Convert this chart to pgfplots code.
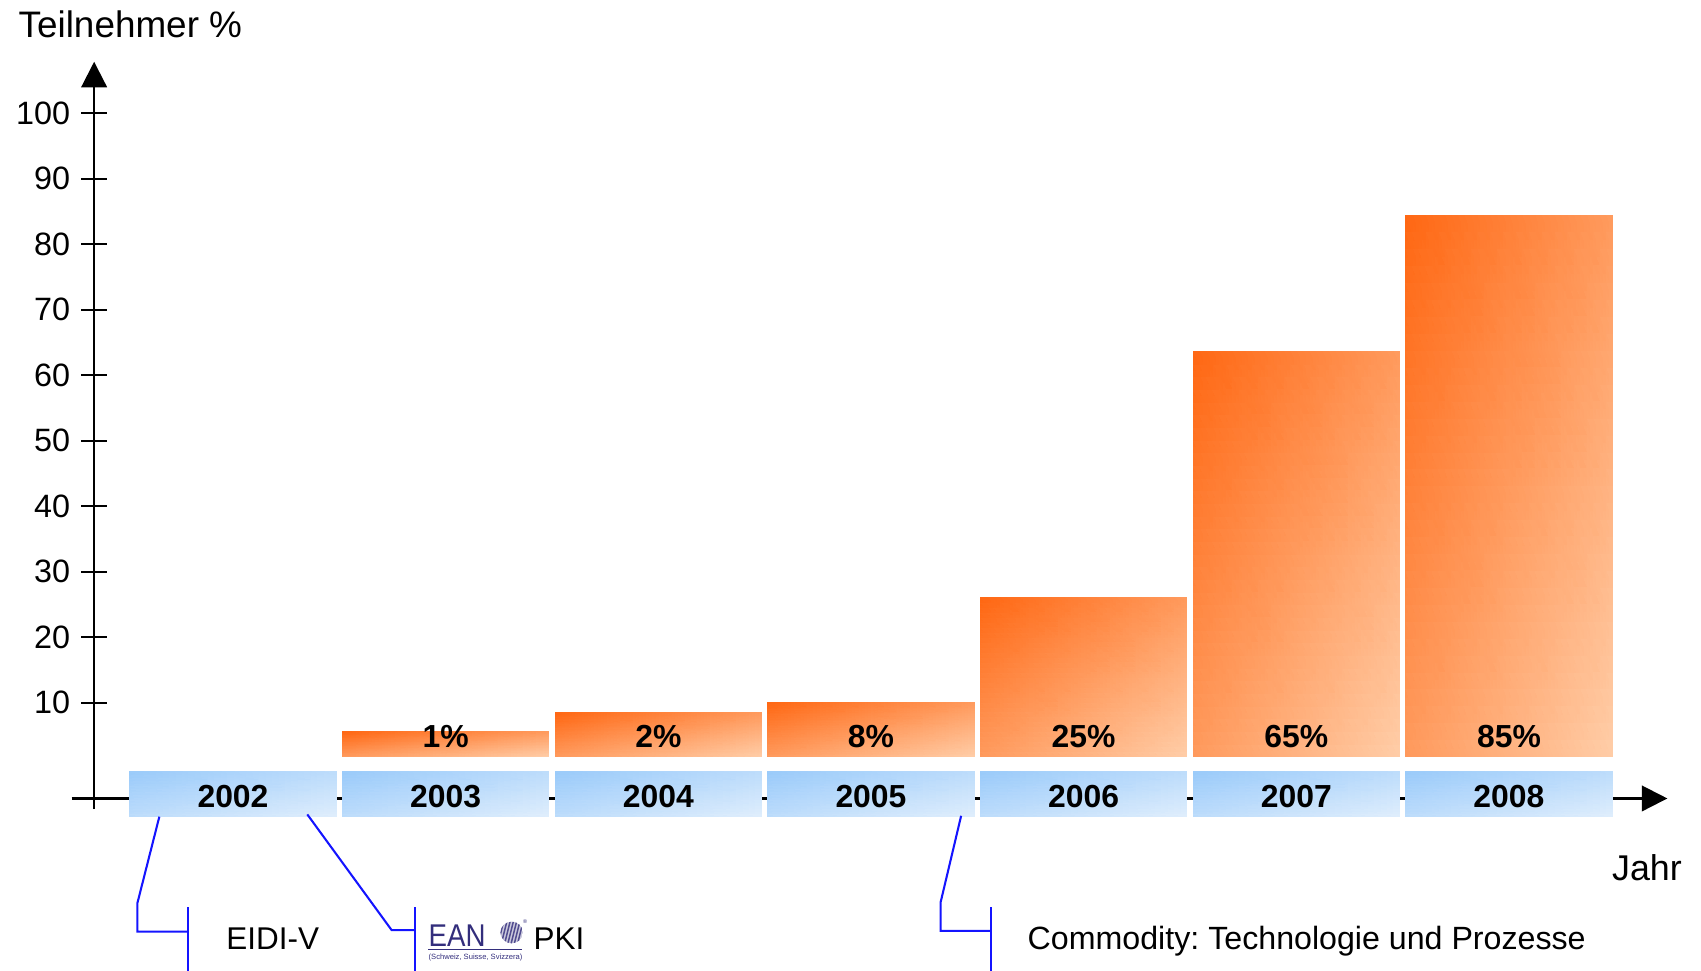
\documentclass[border=0pt]{standalone}
\usepackage{pgfplots}
\pgfplotsset{compat=1.18}
\usepackage{fontspec}
\setmainfont{Liberation Sans}
\usetikzlibrary{arrows.meta}
\definecolor{orA}{HTML}{FF6611}
\definecolor{orB}{HTML}{FFCCA6}
\colorlet{orM}{orA!50!orB}
\definecolor{blA}{HTML}{99CAFA}
\definecolor{blB}{HTML}{DEEDFC}
\colorlet{blM}{blA!50!blB}
\definecolor{lnblue}{HTML}{1414FF}
\definecolor{eanpurple}{HTML}{332E7C}

\tikzset{yr/.style={anchor=base, inner sep=0pt, font=\fontsize{14.7}{14.7}\selectfont\bfseries}}
\frenchspacing

\begin{document}
\begin{tikzpicture}
\begin{axis}[
  scale only axis,
  x=98.015pt, y=3.018pt,
  xmin=-0.653, xmax=6.745, ymin=-6.254, ymax=107.88,
  axis x line=none,
  axis y line*=left,
  y axis line style={draw=none},
  ytick={10,20,...,100},
  tick align=center,
  major tick length=11.8pt,
  tick style={black, line width=1pt},
  yticklabel style={font=\fontsize{14.9}{14.9}\selectfont, inner sep=0pt, xshift=-5pt},
  /pgf/number format/assume math mode=true,
  clip=false,
]
% axis lines
\addplot[black, line width=1pt, -{Triangle[length=11.8pt, width=11.8pt]}] coordinates {(-0.759,-4.631) (6.745,-4.631)};
\addplot[black, line width=1pt, -{Triangle[length=11.8pt, width=11.8pt]}] coordinates {(-0.653,-6.254) (-0.653,107.88)};

% orange bars: participants (bar from 1.748 up to the value), diagonal gradient per bar
\addplot[patch, patch type=rectangle, shader=interp, mesh/color input=explicit] table[meta=c] {
x y c
0.5153 1.748 color=orM
1.4847 1.748 color=orB
1.4847 5.558 color=orM
0.5153 5.558 color=orA
1.5153 1.748 color=orM
2.4847 1.748 color=orB
2.4847 8.458 color=orM
1.5153 8.458 color=orA
2.5153 1.748 color=orM
3.4847 1.748 color=orB
3.4847 10.098 color=orM
2.5153 10.098 color=orA
3.5153 1.748 color=orM
4.4847 1.748 color=orB
4.4847 26.02 color=orM
3.5153 26.02 color=orA
4.5153 1.748 color=orM
5.4847 1.748 color=orB
5.4847 63.63 color=orM
4.5153 63.63 color=orA
5.5153 1.748 color=orM
6.4847 1.748 color=orB
6.4847 84.47 color=orM
5.5153 84.47 color=orA
};

% year boxes
\addplot[patch, patch type=rectangle, shader=interp, mesh/color input=explicit] table[meta=c] {
x y c
-0.4847 -7.414 color=blM
0.4847 -7.414 color=blB
0.4847 -0.555 color=blM
-0.4847 -0.555 color=blA
0.5153 -7.414 color=blM
1.4847 -7.414 color=blB
1.4847 -0.555 color=blM
0.5153 -0.555 color=blA
1.5153 -7.414 color=blM
2.4847 -7.414 color=blB
2.4847 -0.555 color=blM
1.5153 -0.555 color=blA
2.5153 -7.414 color=blM
3.4847 -7.414 color=blB
3.4847 -0.555 color=blM
2.5153 -0.555 color=blA
3.5153 -7.414 color=blM
4.4847 -7.414 color=blB
4.4847 -0.555 color=blM
3.5153 -0.555 color=blA
4.5153 -7.414 color=blM
5.4847 -7.414 color=blB
5.4847 -0.555 color=blM
4.5153 -0.555 color=blA
5.5153 -7.414 color=blM
6.4847 -7.414 color=blB
6.4847 -0.555 color=blM
5.5153 -0.555 color=blA
};

% year labels
\node[yr] at (axis cs:0,-5.99) {2002};
\node[yr] at (axis cs:1,-5.99) {2003};
\node[yr] at (axis cs:2,-5.99) {2004};
\node[yr] at (axis cs:3,-5.99) {2005};
\node[yr] at (axis cs:4,-5.99) {2006};
\node[yr] at (axis cs:5,-5.99) {2007};
\node[yr] at (axis cs:6,-5.99) {2008};
% percent labels
\node[yr] at (axis cs:1,3.17) {1\%};
\node[yr] at (axis cs:2,3.17) {2\%};
\node[yr] at (axis cs:3,3.17) {8\%};
\node[yr] at (axis cs:4,3.17) {25\%};
\node[yr] at (axis cs:5,3.17) {65\%};
\node[yr] at (axis cs:6,3.17) {85\%};

% annotation connectors
\addplot[lnblue, line width=0.95pt] coordinates {(-0.3464,-7.414) (-0.4499,-20.65) (-0.4499,-24.98) (-0.2132,-24.98)};
\addplot[lnblue, line width=0.95pt] coordinates {(-0.2132,-21.26) (-0.2132,-31.8)};
\addplot[lnblue, line width=0.95pt] coordinates {(0.3494,-7.066) (0.7458,-24.73) (0.8560,-24.73)};
\addplot[lnblue, line width=0.95pt] coordinates {(0.8560,-21.26) (0.8560,-31.8)};
\addplot[lnblue, line width=0.95pt] coordinates {(3.4240,-7.28) (3.3271,-20.54) (3.3271,-24.84) (3.5637,-24.84)};
\addplot[lnblue, line width=0.95pt] coordinates {(3.5637,-21.26) (3.5637,-31.8)};

% texts
\node[anchor=base west, inner sep=0pt, font=\fontsize{17}{17}\selectfont] at (axis cs:-1.0101,111.59) {Teilnehmer \%};
\node[anchor=base west, inner sep=0pt, font=\fontsize{16.5}{16.5}\selectfont] at (axis cs:6.4832,-17.19) {Jahr};
\node[anchor=base west, inner sep=0pt, font=\fontsize{14.5}{14.5}\selectfont] at (axis cs:-0.0332,-27.63) {EIDI-V};
\node[anchor=base west, inner sep=0pt, font=\fontsize{14.5}{14.5}\selectfont] at (axis cs:1.4120,-27.63) {PKI};
\node[anchor=base west, inner sep=0pt, font=\fontsize{14.83}{14.83}\selectfont] at (axis cs:3.7351,-27.63) {Commodity: Technologie und Prozesse};

% EAN logo text
\node[anchor=base west, inner sep=0pt, text=eanpurple, font=\fontsize{14.5}{14.5}\selectfont] at (axis cs:0.9182,-27.18) {\scalebox{0.88}[1]{EAN}};
\draw[eanpurple, line width=0.5pt] (axis cs:0.9182,-27.68) -- (axis cs:1.3605,-27.68);
\node[anchor=base west, inner sep=0pt, text=eanpurple, font=\fontsize{3.5}{3.5}\selectfont] at (axis cs:0.9182,-29.23) {(Schweiz, Suisse, Svizzera)};
\coordinate (logo) at (axis cs:1.3105,-25.10);

\coordinate (BL) at (axis cs:-1.0957,-30.97);
\coordinate (TR) at (axis cs:6.9032,117.31);
\end{axis}
\begin{scope}[shift={(logo)}]
  \clip (0,0) ellipse (5.2pt and 5pt);
  \fill[eanpurple!25] (0,0) ellipse (5.2pt and 5pt);
  \foreach \k in {-5,-3.5,...,5}{
    \draw[eanpurple!85, line width=0.7pt] (\k pt-1.5pt,-6pt) -- (\k pt+1.5pt,6pt);
  }
\end{scope}
\node[anchor=center, inner sep=0pt, text=eanpurple, font=\fontsize{2.5}{2.5}\selectfont, shift={(6.2pt,5.2pt)}] at (logo) {\textregistered};
\pgfresetboundingbox
\useasboundingbox (BL) rectangle (TR);
\end{tikzpicture}
\end{document}
